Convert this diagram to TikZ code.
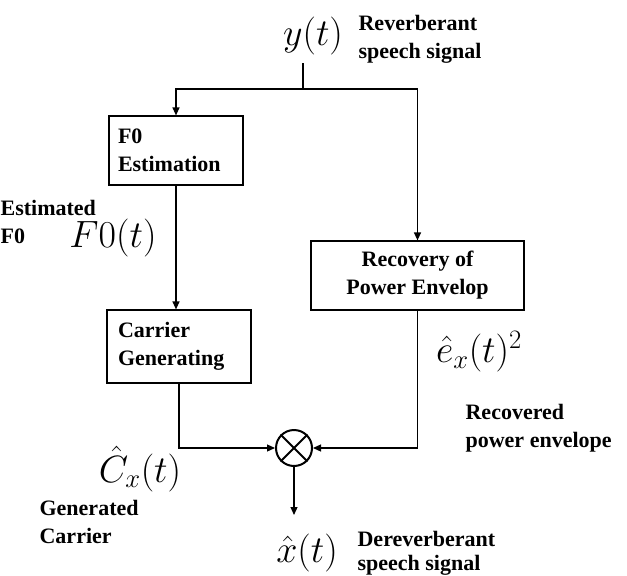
\RequirePackage{fix-cm}
\documentclass[tikz,border=0pt]{standalone}
\usepackage{fontspec}
\setmainfont{Liberation Serif}
\usetikzlibrary{arrows.meta}

\begin{document}
\begin{tikzpicture}[x=1pt,y=-1pt,line width=1.2pt,
  blk/.style={draw,font=\fontsize{22}{28}\selectfont\bfseries,inner sep=0pt},
  lbl/.style={font=\fontsize{22}{28}\selectfont\bfseries,align=left,inner sep=0pt,anchor=north west},
  sig/.style={font=\fontsize{38}{40}\selectfont,inner sep=0pt},
  arr/.style={-{Triangle[length=8pt,width=7pt]}}]
\useasboundingbox (0,0) rectangle (627,576);
\node[sig] (ysig) at (313,36) {$y(t)$};
\node[lbl] (ytxt) at (358,15) {Reverberant\\speech signal};
\coordinate (src) at (303,63);
\coordinate (split) at (303,89);
\node[blk,minimum width=134pt,minimum height=69pt,text width=116pt,align=left] (f0est) at (176,150.5) {F0\\Estimation};
\node[blk,minimum width=144pt,minimum height=73pt,text width=122pt,align=left] (carrier) at (179,346.5) {Carrier\\Generating};
\node[blk,minimum width=213pt,minimum height=69pt,align=center] (recov) at (417.5,275.5) {Recovery of\\Power Envelop};
\node[draw,circle,minimum size=36pt,inner sep=0pt,line width=2pt] (mult) at (294,448) {};
\draw[line width=2pt] (mult.45) -- (mult.225) (mult.135) -- (mult.315);
\coordinate (xend) at (294,515);
\node[lbl] (f0lbl) at (0,200) {Estimated\\F0};
\node[sig] (f0sig) at (113,238) {$F0(t)$};
\node[sig] (esig) at (479,352) {$\hat{e}_x(t)^2$};
\node[lbl] (elbl) at (465,404) {Recovered\\power envelope};
\node[sig] (csig) at (140,469) {$\hat{C}_x(t)$};
\node[lbl] (clbl) at (39,500) {Generated\\Carrier};
\node[sig] (xhat) at (307,553) {$\hat{x}(t)$};
\node[lbl,font=\fontsize{22}{24}\selectfont\bfseries] (xlbl) at (357,531) {Dereverberant\\speech signal};
\draw (src) -- (split);
\draw[arr] (split) -| (f0est.north);
\draw[arr] (split) -| (recov.north);
\draw[arr] (f0est.south) -- (f0est.south |- carrier.north);
\draw[arr] (carrier.south) |- (mult.west);
\draw[arr] (recov.south) |- (mult.east);
\draw[arr] (mult.south) -- (xend);
\end{tikzpicture}
\end{document}
